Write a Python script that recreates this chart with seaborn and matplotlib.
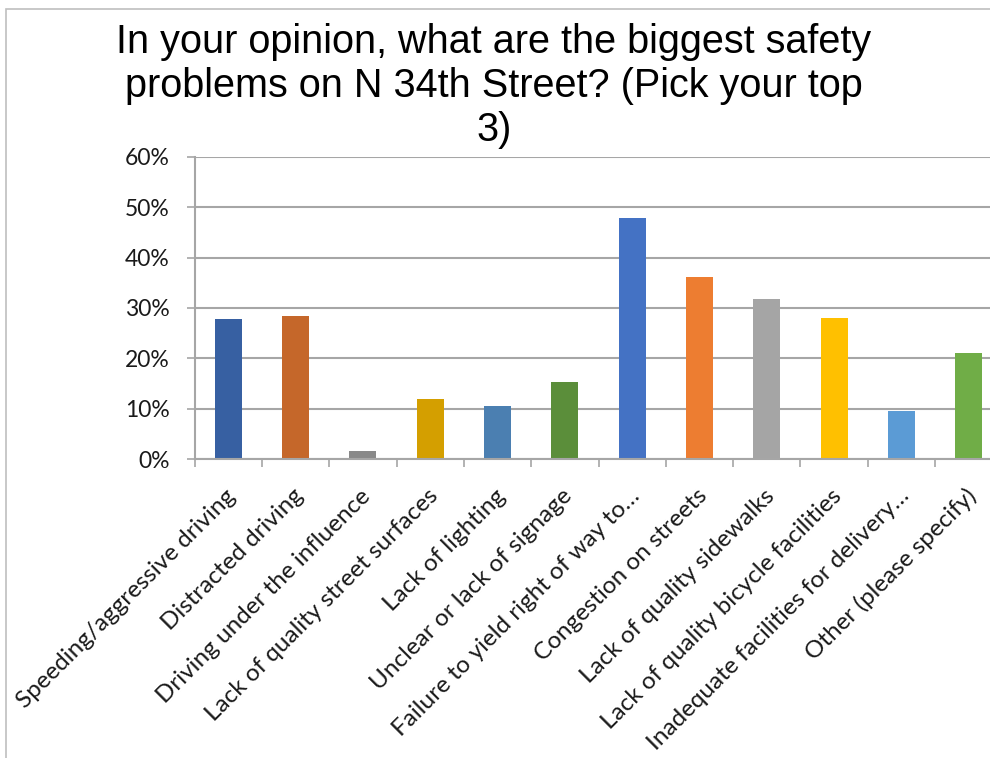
import matplotlib
matplotlib.use("Agg")
import matplotlib.pyplot as plt
from matplotlib.patches import Rectangle
from matplotlib.ticker import PercentFormatter, FixedLocator
from matplotlib.transforms import ScaledTranslation
import seaborn as sns
import pandas as pd

categories = [
    "Speeding/aggressive driving",
    "Distracted driving",
    "Driving under the influence",
    "Lack of quality street surfaces",
    "Lack of lighting",
    "Unclear or lack of signage",
    "Failure to yield right of way to…",
    "Congestion on streets",
    "Lack of quality sidewalks",
    "Lack of quality bicycle facilities",
    "Inadequate facilities for delivery…",
    "Other (please specify)",
]
shares = [0.278, 0.284, 0.016, 0.120, 0.106, 0.153,
          0.479, 0.362, 0.318, 0.280, 0.096, 0.211]
colors = ["#3760A2", "#C5672A", "#898989", "#D49F00", "#4B7FB1", "#5B8E3A",
          "#4472C4", "#ED7D31", "#A5A5A5", "#FFC000", "#5B9BD5", "#70AD47"]
y_ticks = [0, 0.1, 0.2, 0.3, 0.4, 0.5, 0.6]
title = ("In your opinion, what are the biggest safety\n"
         "problems on N 34th Street? (Pick your top\n3)")

df = pd.DataFrame({"problem": categories, "share": shares})

sns.set_theme(style="white")
plt.rcParams["font.family"] = ["Lato", "DejaVu Sans"]

fig = plt.figure(figsize=(9.9, 7.58), dpi=100)
fig.patch.set_facecolor("white")

W, H = 990, 758
ax = fig.add_axes([194.7 / W, (H - 459.3) / H, 807.6 / W, 302.6 / H])

sns.barplot(data=df, x="problem", y="share", hue="problem",
            palette=colors, width=0.4, legend=False, ax=ax,
            saturation=1, edgecolor="none")

grid_c = "#A6A6A6"
ax.set_ylim(0, 0.6)
ax.set_xlim(-0.5, len(categories) - 0.5)
ax.yaxis.set_major_locator(FixedLocator(y_ticks))
ax.yaxis.set_major_formatter(PercentFormatter(1.0, decimals=0))
ax.yaxis.grid(True, color=grid_c, linewidth=1.5)
ax.set_axisbelow(True)
ax.set_xlabel("")
ax.set_ylabel("")

for side in ("top", "right"):
    ax.spines[side].set_visible(False)
for side in ("left", "bottom"):
    ax.spines[side].set_color(grid_c)
    ax.spines[side].set_linewidth(1.5)

ax.tick_params(axis="y", which="major", left=True, length=6, width=1.2,
               color=grid_c, labelsize=16.5, labelcolor="#1a1a1a", pad=12)
ax.set_xticks(range(len(categories)))
ax.set_xticklabels(categories)
ax.set_xticks([i - 0.5 for i in range(len(categories) + 1)], minor=True)
ax.tick_params(axis="x", which="major", bottom=False, length=0,
               labelsize=17.5, labelcolor="#1a1a1a", pad=24)
ax.tick_params(axis="x", which="minor", bottom=True, length=6, width=1.2,
               color=grid_c)
shift = ScaledTranslation(3 / 72, 0, fig.dpi_scale_trans)
for lbl in ax.get_xticklabels():
    lbl.set_rotation(45)
    lbl.set_ha("right")
    lbl.set_va("center")
    lbl.set_rotation_mode("anchor")
    lbl.set_transform(lbl.get_transform() + shift)

fig.text(494 / W, 1 - 86 / H, title, ha="center", va="center",
         family=["Liberation Sans", "DejaVu Sans"], fontsize=28.5,
         linespacing=1.2, color="black")

# chart-area frame, open to the right and bottom
fig.add_artist(Rectangle((5.5 / W, -0.2), 2.0, 1.2 - 8.5 / H,
                         transform=fig.transFigure, fill=False,
                         edgecolor="#BFBFBF", linewidth=1.2))

fig.savefig("out.png", dpi=100, facecolor="white")
